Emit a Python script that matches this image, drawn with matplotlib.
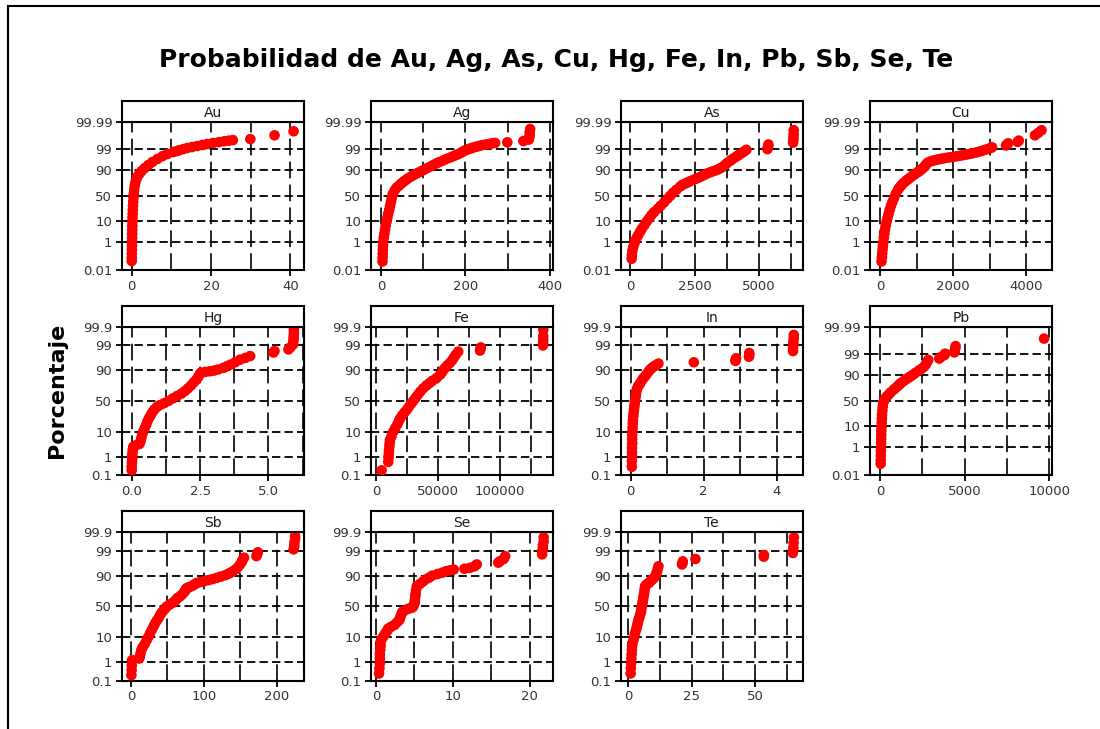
import math
import numpy as np
import matplotlib
matplotlib.use("Agg")
import matplotlib.pyplot as plt
from matplotlib.ticker import FixedLocator, MultipleLocator, FormatStrFormatter, NullLocator
from matplotlib.lines import Line2D

plt.rcParams['font.family'] = ['DejaVu Sans']
plt.rcParams['lines.scale_dashes'] = False

# (cumulative percent, value) pairs for each element
AU = [(0.054, 0.0), (0.097, 0.02), (0.19, 0.03), (0.35, 0.05), (0.62, 0.06), (1.07, 0.08),
      (1.79, 0.1), (2.87, 0.12), (4.46, 0.14), (6.68, 0.16), (9.68, 0.18), (13.6, 0.2),
      (18.4, 0.24), (24.2, 0.28), (30.9, 0.32), (38.2, 0.38), (46, 0.45), (54, 0.52),
      (61.8, 0.62), (69.1, 0.75), (74.2, 0.9), (78.8, 1.1), (82.9, 1.4), (86.4, 1.9),
      (89.4, 2.5), (91.9, 3.3), (93.9, 4.2), (95.5, 5.2), (96.8, 6.5), (97.7, 7.8),
      (98.2, 9.0), (98.6, 10.5), (98.75, 11.3), (98.9, 12.0), (99.05, 13.0), (99.18, 14.0),
      (99.28, 15.2), (99.38, 16.5), (99.46, 17.8), (99.53, 19.0), (99.6, 20.5), (99.65, 22.0),
      (99.69, 23.3), (99.72, 24.5), (99.74, 25.5), (99.78, 29.9), (99.88, 36.0), (99.94, 40.8)]

AG = [(0.05, 3.5), (0.1, 3.8), (0.19, 4.0), (0.35, 4.3), (0.62, 4.8), (1.07, 5.5),
      (1.79, 6.5), (2.87, 8.0), (4.46, 9.5), (6.68, 11), (9.68, 13), (13.6, 15), (18.4, 17),
      (24.2, 19.5), (30.9, 21.5), (38.2, 23.5), (46, 25.5), (54, 28), (61.8, 33), (66, 37),
      (69.1, 42), (72, 46), (74.2, 50), (76.5, 54), (78.8, 59), (81, 64), (82.9, 70),
      (84.7, 76), (86.4, 82), (88, 89), (89.4, 96), (90.7, 103), (91.9, 110), (92.9, 117),
      (93.9, 124), (94.8, 131), (95.5, 138), (96.2, 147), (96.8, 155), (97.3, 164),
      (97.7, 172), (98.0, 178), (98.2, 183), (98.4, 188), (98.6, 192), (98.75, 196),
      (98.9, 200), (99.0, 205), (99.1, 210), (99.18, 215), (99.25, 220), (99.32, 226),
      (99.38, 232), (99.44, 238), (99.48, 245), (99.52, 252), (99.55, 258), (99.58, 264),
      (99.6, 270), (99.64, 299), (99.7, 337), (99.76, 350), (99.82, 351), (99.88, 352),
      (99.93, 352), (99.96, 353)]

AS = [(0.08, 50), (0.15, 60), (0.3, 80), (0.5, 110), (0.8, 150), (1.2, 190), (1.8, 250),
      (2.5, 310), (3.6, 380), (5, 450), (7, 540), (10, 640), (13, 730), (17, 830), (21, 930),
      (26, 1070), (31, 1180), (37, 1310), (44, 1440), (50, 1550), (56, 1660), (62, 1790),
      (68, 1940), (71, 2030), (73, 2130), (75, 2230), (77, 2330), (79, 2460), (81, 2590),
      (82.5, 2690), (84, 2790), (85.5, 2890), (87, 2990), (88, 3090), (89, 3200), (90, 3330),
      (91, 3440), (92, 3530), (93, 3610), (94, 3690), (95, 3766), (96, 3880), (96.6, 3950),
      (97.1, 4030), (97.6, 4130), (98, 4220), (98.4, 4330), (98.7, 4420), (98.95, 4510),
      (99.05, 5330), (99.2, 5345), (99.35, 5360), (99.5, 5370), (99.62, 6330), (99.74, 6340),
      (99.83, 6345), (99.9, 6350), (99.95, 6355)]

CU = [(0.05, 40), (0.1, 50), (0.2, 60), (0.35, 70), (0.6, 80), (1, 90), (1.8, 105), (2.9, 120),
      (4.5, 135), (6.7, 155), (9.7, 180), (13.6, 205), (18.4, 235), (24.2, 265), (30.9, 300),
      (38.2, 340), (46, 385), (54, 430), (61.8, 490), (66, 530), (69.1, 570), (72, 610),
      (74.5, 650), (77, 700), (79, 750), (81, 800), (83, 850), (85, 909), (86.5, 960),
      (88, 1020), (89, 1060), (90, 1100), (91, 1140), (92, 1180), (93, 1220), (94, 1250),
      (95, 1290), (95.6, 1350), (96, 1420), (96.3, 1500), (96.6, 1580), (96.8, 1660),
      (97, 1740), (97.2, 1830), (97.35, 1920), (97.5, 2010), (97.65, 2100), (97.8, 2190),
      (97.95, 2280), (98.1, 2370), (98.25, 2460), (98.4, 2550), (98.55, 2640), (98.7, 2727),
      (98.85, 2810), (99.0, 2900), (99.16, 3000), (99.25, 3060), (99.42, 3440), (99.5, 3470),
      (99.58, 3500), (99.66, 3760), (99.72, 3790), (99.88, 4230), (99.92, 4320), (99.95, 4410)]

HG = [(0.19, 0.0), (0.3, 0.0), (0.5, 0.01), (0.8, 0.02), (1.1, 0.02), (1.6, 0.03), (2.2, 0.04),
      (2.8, 0.06), (3.2, 0.15), (3.6, 0.28), (4.5, 0.32), (6, 0.35), (8, 0.38), (10, 0.42),
      (13, 0.48), (16, 0.53), (20, 0.58), (24, 0.64), (28, 0.70), (32, 0.76), (36, 0.83),
      (40, 0.92), (43, 1.03), (46, 1.18), (50, 1.35), (54, 1.5), (58, 1.66), (62, 1.82),
      (66, 1.95), (70, 2.06), (74, 2.17), (78, 2.27), (81, 2.36), (84, 2.43), (86.5, 2.48),
      (88, 2.53), (88.6, 2.68), (89.1, 2.85), (89.6, 3.0), (90.4, 3.15), (91.5, 3.35),
      (92.5, 3.48), (93.4, 3.6), (94.6, 3.78), (95.7, 3.96), (96.3, 4.15), (96.9, 4.33),
      (97.8, 5.18), (98.1, 5.22), (98.4, 5.73), (98.7, 5.8), (99.06, 5.9), (99.3, 5.9),
      (99.5, 5.92), (99.64, 5.92), (99.76, 5.93), (99.85, 5.93)]

FE = [(0.19, 4570), (0.55, 9900), (0.9, 10100), (1.3, 10300), (1.9, 10500), (2.8, 10800),
      (3.8, 11000), (5.2, 11300), (7, 12500), (10, 14000), (13, 15600), (16.5, 17300),
      (20, 18500), (23, 19400), (27, 21000), (31, 22800), (35, 24700), (40, 26500),
      (45, 28300), (50, 30100), (55, 32000), (60, 33800), (65, 35800), (70, 38200),
      (74, 40800), (77, 43200), (80, 45600), (83, 48900), (86, 51600), (88, 53100),
      (90, 54300), (91.5, 55800), (93, 57500), (94.3, 59700), (95.5, 61600), (96.5, 63000),
      (97.3, 64500), (98.0, 66400), (98.2, 84000), (98.45, 84300), (98.7, 84600),
      (98.95, 134800), (99.2, 134900), (99.45, 135000), (99.65, 135000), (99.85, 135100)]

IN = [(0.3, 0.03), (0.6, 0.03), (1, 0.035), (1.6, 0.035), (2.5, 0.035), (3.8, 0.04), (5.5, 0.04),
      (7.5, 0.04), (10, 0.045), (13, 0.05), (17, 0.055), (21, 0.06), (26, 0.07), (31, 0.08),
      (36, 0.09), (41, 0.1), (46, 0.11), (50, 0.12), (55, 0.13), (60, 0.14), (65, 0.155),
      (69, 0.17), (73, 0.2), (75, 0.23), (77, 0.26), (80, 0.3), (82.5, 0.34), (84.6, 0.39),
      (86.5, 0.43), (88.5, 0.48), (90.3, 0.53), (91.5, 0.58), (92.5, 0.64), (93.3, 0.7),
      (94, 0.76), (94.6, 1.73), (95.2, 2.87), (95.7, 2.88), (96.2, 2.89), (96.7, 3.24),
      (97.2, 3.25), (97.7, 3.25), (98.1, 4.45), (98.6, 4.45), (99, 4.46), (99.3, 4.46),
      (99.55, 4.47), (99.7, 4.47)]

PB = [(0.08, 40), (0.15, 45), (0.3, 50), (0.6, 55), (1, 60), (1.8, 65), (2.9, 70), (4.5, 75),
      (6.7, 80), (9.7, 90), (13.6, 100), (18.4, 110), (24.2, 120), (30.9, 140), (38.2, 160),
      (46, 190), (50, 230), (54, 300), (58.7, 400), (62, 500), (66, 620), (71, 800), (74, 920),
      (77, 1050), (79.5, 1150), (81.6, 1250), (84, 1400), (86, 1550), (87.7, 1680), (89, 1800),
      (90.5, 1950), (92, 2100), (93.6, 2300), (94.6, 2450), (95.6, 2600), (96.5, 2700),
      (97.3, 2780), (98, 2850), (98.3, 3500), (98.6, 3600), (98.9, 3800), (99.1, 3850),
      (99.25, 4400), (99.4, 4420), (99.55, 4450), (99.7, 4470), (99.91, 9700)]

SB = [(0.21, 0.5), (0.4, 0.8), (0.7, 1.0), (1.26, 1.5), (1.5, 11), (1.8, 12), (2.5, 13),
      (3.4, 14), (4.5, 16), (6, 19), (8.1, 21.5), (10, 23.5), (13, 26), (16.5, 28.5),
      (20, 30.7), (24, 33), (28, 35.5), (32, 38), (36.3, 40), (40, 42), (44, 45), (47, 47),
      (50, 49), (53, 53), (56, 57), (59, 60), (62, 62.5), (64, 64), (66.3, 67.3), (69, 70),
      (72, 72.5), (74, 74), (76, 75), (77, 76), (78, 77), (79, 80), (80, 83), (81.5, 86),
      (82.5, 88), (83.6, 90), (84.5, 95), (85.3, 100), (86.3, 106), (87.3, 112), (88.3, 117.6),
      (89.3, 123), (90.3, 129), (91.2, 133), (91.9, 136), (93, 140), (94, 144), (95, 147),
      (96, 149.6), (96.8, 152), (97.4, 153), (97.9, 155), (98.2, 172), (98.5, 173),
      (98.8, 174), (99.13, 223), (99.4, 224), (99.6, 224), (99.75, 225), (99.83, 225)]

SE = [(0.26, 0.4), (0.5, 0.45), (0.9, 0.5), (1.5, 0.5), (2.3, 0.5), (3.5, 0.55), (5, 0.6),
      (7, 0.6), (8.5, 0.7), (10, 0.9), (12, 1.1), (14, 1.3), (16, 1.5), (18, 1.6), (20, 2.0),
      (22, 2.4), (25, 2.7), (28, 3.0), (31, 3.1), (34, 3.2), (37, 3.3), (40, 3.4), (42, 3.5),
      (45, 4.0), (47, 4.4), (49, 4.8), (52, 4.9), (55, 5.0), (58, 5.05), (61, 5.06), (66, 5.1),
      (70, 5.15), (75, 5.2), (80, 5.3), (82.5, 5.7), (85, 6.1), (86.8, 6.4), (88.5, 6.9),
      (90, 7.3), (91.2, 8.0), (92, 8.6), (92.9, 9.1), (93.4, 9.6), (93.8, 10.1), (94.2, 11.5),
      (94.6, 12.2), (95.3, 12.8), (96, 13.1), (96.6, 15.9), (97, 16.1), (97.6, 16.6),
      (98.2, 16.8), (98.5, 21.6), (98.9, 21.6), (99.2, 21.7), (99.45, 21.7), (99.65, 21.8),
      (99.8, 21.8)]

TE = [(0.26, 0.9), (0.5, 1.0), (0.9, 1.1), (1.5, 1.2), (2.3, 1.3), (3.5, 1.4), (5, 1.5),
      (6.2, 1.6), (8, 2.0), (10, 2.3), (13, 2.6), (16, 3.0), (19, 3.3), (22, 3.5), (25.5, 3.8),
      (29, 4.0), (33, 4.4), (37, 4.7), (41, 5.0), (45, 5.1), (50, 5.3), (54, 5.5), (58, 5.7),
      (62, 5.85), (66, 6.0), (70, 6.2), (73, 6.3), (77, 6.5), (80, 6.6), (82, 7.2), (83.5, 8.0),
      (85, 8.6), (86.5, 9.3), (88, 10.0), (89.6, 10.6), (91, 11.0), (92.5, 11.3), (94, 11.6),
      (95.3, 11.9), (96, 21.2), (96.5, 21.4), (97, 21.5), (97.6, 26.5), (98.1, 53.5),
      (98.4, 53.6), (98.7, 65), (99, 65.1), (99.3, 65.2), (99.6, 65.3), (99.8, 65.4)]

ELEMENTS = ["Au", "Ag", "As", "Cu", "Hg", "Fe", "In", "Pb", "Sb", "Se", "Te"]
SERIES = [AU, AG, AS, CU, HG, FE, IN, PB, SB, SE, TE]

TICKS_WIDE = [0.01, 1, 10, 50, 90, 99, 99.99]
TICKS_NARROW = [0.1, 1, 10, 50, 90, 99, 99.9]

# per panel: x limits, x tick step, tick format, probability range
PANEL_X = {
    "Au": ((-2.45, 43.3), 20, '%g', 'wide'),
    "Ag": ((-23.7, 406), 200, '%g', 'wide'),
    "As": ((-363, 6695), 2500, '%g', 'wide'),
    "Cu": ((-273, 4683), 2000, '%g', 'wide'),
    "Hg": ((-0.355, 6.28), 2.5, '%.1f', 'narrow'),
    "Fe": ((-4032, 142500), 50000, '%d', 'narrow'),
    "In": ((-0.267, 4.71), 2, '%g', 'narrow'),
    "Pb": ((-590, 10140), 5000, '%d', 'wide'),
    "Sb": ((-12.4, 236.6), 100, '%g', 'narrow'),
    "Se": ((-0.65, 22.95), 10, '%g', 'narrow'),
    "Te": ((-2.9, 68.8), 25, '%g', 'narrow'),
}

# ---- normal probability scale ----
_A = [-3.969683028665376e+01, 2.209460984245205e+02, -2.759285104469687e+02,
      1.383577518672690e+02, -3.066479806614716e+01, 2.506628277459239e+00]
_B = [-5.447609879822406e+01, 1.615858368580409e+02, -1.556989798598866e+02,
      6.680131188771972e+01, -1.328068155288572e+01]
_C = [-7.784894002430293e-03, -3.223964580411365e-01, -2.400758277161838e+00,
      -2.549732539343734e+00, 4.374664141464968e+00, 2.938163982698783e+00]
_D = [7.784695709041462e-03, 3.224671290700398e-01, 2.445134137142996e+00,
      3.754408661907416e+00]


def _ppf_scalar(p):
    if not np.isfinite(p):
        return np.nan
    p = min(max(p, 1e-12), 1 - 1e-12)
    plow = 0.02425
    if p < plow:
        q = math.sqrt(-2 * math.log(p))
        return (((((_C[0]*q+_C[1])*q+_C[2])*q+_C[3])*q+_C[4])*q+_C[5]) / \
               ((((_D[0]*q+_D[1])*q+_D[2])*q+_D[3])*q+1)
    if p <= 1 - plow:
        q = p - 0.5
        r = q * q
        return (((((_A[0]*r+_A[1])*r+_A[2])*r+_A[3])*r+_A[4])*r+_A[5])*q / \
               (((((_B[0]*r+_B[1])*r+_B[2])*r+_B[3])*r+_B[4])*r+1)
    q = math.sqrt(-2 * math.log(1 - p))
    return -(((((_C[0]*q+_C[1])*q+_C[2])*q+_C[3])*q+_C[4])*q+_C[5]) / \
            ((((_D[0]*q+_D[1])*q+_D[2])*q+_D[3])*q+1)


_ppf = np.vectorize(_ppf_scalar, otypes=[float])
_erf = np.vectorize(lambda v: math.erf(v) if np.isfinite(v) else np.nan, otypes=[float])


def pct_to_z(pct):
    return _ppf(np.asarray(pct, dtype=float) / 100.0)


def z_to_pct(z):
    return 50.0 * (1.0 + _erf(np.asarray(z, dtype=float) / math.sqrt(2.0)))


# ---- layout (pixels) ----
W, H = 1100, 729
COL_LEFT = [122, 371, 621, 870]
ROW_TOP = [121.7, 326.7, 532.3]
PW, PH, SH = 181.5, 148.3, 21.0

fig = plt.figure(figsize=(W / 100, H / 100), dpi=100)
fig.patch.set_facecolor('white')

for i, (name, pairs) in enumerate(zip(ELEMENTS, SERIES)):
    r, c = divmod(i, 4)
    l, t = COL_LEFT[c], ROW_TOP[r]
    ax = fig.add_axes([l / W, 1 - (t + PH) / H, PW / W, PH / H])
    xlim, step, fmt, kind = PANEL_X[name]
    ticks = TICKS_WIDE if kind == 'wide' else TICKS_NARROW

    data = np.array(pairs, dtype=float)
    pct, val = data[:, 0], data[:, 1]

    ax.set_yscale('function', functions=(pct_to_z, z_to_pct))
    ax.set_ylim(ticks[0], ticks[-1])
    ax.set_xlim(*xlim)
    ax.yaxis.set_major_locator(FixedLocator(ticks))
    ax.yaxis.set_major_formatter(FormatStrFormatter('%g'))
    ax.yaxis.set_minor_locator(NullLocator())
    ax.xaxis.set_major_locator(MultipleLocator(step))
    ax.xaxis.set_minor_locator(MultipleLocator(step / 2))
    ax.xaxis.set_major_formatter(FormatStrFormatter(fmt))

    ax.set_axisbelow(True)
    ax.grid(True, which='both', axis='x', color='black', lw=1.2,
            linestyle=(0, (12, 4.5)))
    ax.grid(True, which='major', axis='y', color='black', lw=1.3,
            linestyle=(0, (6, 3)))

    ax.scatter(val, pct, s=58, c='#ff0000', edgecolors='none', zorder=3)

    ax.tick_params(which='major', direction='out', length=4, width=1.3,
                   color='black', labelcolor='#333333', labelsize=9.5, pad=3)
    ax.tick_params(which='minor', length=0)
    for sp in ax.spines.values():
        sp.set_linewidth(1.5)
        sp.set_color('black')

    sax = fig.add_axes([l / W, 1 - t / H, PW / W, SH / H])
    sax.set_xticks([])
    sax.set_yticks([])
    sax.set_facecolor('white')
    for sp in sax.spines.values():
        sp.set_linewidth(1.5)
        sp.set_color('black')
    sax.text(0.5, 0.42, name, ha='center', va='center', fontsize=10,
             color='#1a1a1a', transform=sax.transAxes)

fig.text(556 / W, 1 - 60 / H, "Probabilidad de Au, Ag, As, Cu, Hg, Fe, In, Pb, Sb, Se, Te",
         ha='center', va='center', fontsize=18, fontweight='bold')
fig.text(57 / W, 1 - 390 / H, "Porcentaje", rotation=90, ha='center', va='center',
         fontsize=16, fontweight='bold')

# outer frame
fig.add_artist(Line2D([8 / W, 1.0], [1 - 6 / H, 1 - 6 / H], transform=fig.transFigure,
                      color='black', lw=1.5))
fig.add_artist(Line2D([8 / W, 8 / W], [1 - 6 / H, 0.0], transform=fig.transFigure,
                      color='black', lw=1.5))

fig.savefig('out.png', dpi=100)
